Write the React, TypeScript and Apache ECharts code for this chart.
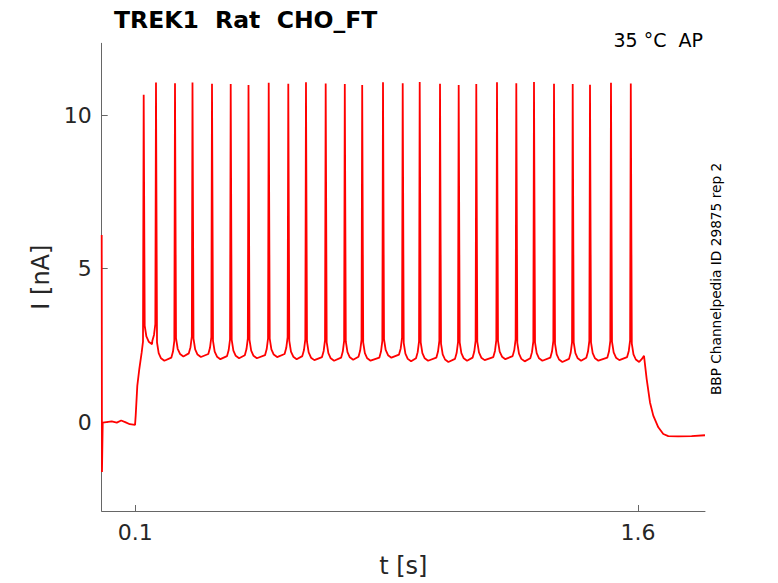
import React, { useEffect, useRef } from "react";
import * as echarts from "echarts";

// Stimulus/trace data
const spikeTimes = [
  0.1253, 0.162, 0.2187, 0.2709, 0.3291, 0.3849, 0.438, 0.4983, 0.5567, 0.6095,
  0.6683, 0.7253, 0.7772, 0.8393, 0.8981, 0.9488, 1.0094, 1.0651, 1.1176, 1.1794,
  1.237, 1.2898, 1.3495, 1.4053, 1.4569, 1.5195, 1.5786,
];
const spikePeaks = [
  10.67, 11.07, 11.05, 11.07, 11.03, 11.02, 10.99, 11.06, 11.03, 11.08,
  11.04, 11.02, 10.99, 11.08, 11.05, 11.09, 11.03, 10.99, 11.02, 11.08,
  11.05, 11.09, 11.03, 11.02, 11.0, 11.06, 11.04,
];
const troughLevels = [
  2.54, 2.0, 2.14, 2.12, 2.05, 2.08, 2.08, 2.12, 2.05, 2.02,
  2.0, 2.03, 2.0, 2.1, 1.98, 2.0, 1.96, 2.0, 2.02, 2.05,
  1.98, 2.0, 1.96, 2.0, 2.0, 2.02, 1.96,
];
// shape of the trace right after each spike: [seconds after spike, nA above trough]
const afterSpikeShape = [
  [0.003, 0.6],
  [0.008, 0.25],
  [0.015, 0.08],
  [0.025, 0.0],
];
// shape right before the next spike: [seconds before spike, nA above trough]
const beforeSpikeShape = [
  [-0.011, 0.1],
  [-0.006, 0.3],
  [-0.002, 0.65],
];
// start of trace: transient, holding baseline and step onset
const onsetTrace = [
  [0.0, 6.1],
  [0.0008, -1.63],
  [0.003, -0.02],
  [0.03, 0.02],
  [0.045, -0.02],
  [0.058, 0.05],
  [0.07, 0.0],
  [0.084, -0.07],
  [0.0995, -0.09],
  [0.1014, 0.21],
  [0.1062, 1.18],
  [0.1122, 1.73],
  [0.1193, 2.27],
  [0.1232, 2.62],
];
// end of trace: step offset and return to holding
const offsetTrace = [
  [1.6111, 2.05],
  [1.618, 2.16],
  [1.626, 1.4],
  [1.6359, 0.64],
  [1.6457, 0.21],
  [1.6607, -0.17],
  [1.6756, -0.39],
  [1.6905, -0.46],
  [1.72, -0.47],
  [1.76, -0.46],
  [1.8, -0.43],
];
const xTicks = [0.1, 1.6];
const yTicks = [0, 5, 10];

const titleText = "TREK1  Rat  CHO_FT";
const tempText = "35 °C  AP";
const idText = "BBP Channelpedia ID 29875 rep 2";

function buildTrace(): number[][] {
  const pts: number[][] = onsetTrace.map((p) => [p[0], p[1]]);
  for (let k = 0; k < spikeTimes.length; k++) {
    const t = spikeTimes[k];
    const tr = troughLevels[k];
    pts.push([t, spikePeaks[k]]);
    for (const [dt, dv] of afterSpikeShape) pts.push([t + dt, tr + dv]);
    if (k < spikeTimes.length - 1) {
      const tn = spikeTimes[k + 1];
      for (const [dt, dv] of beforeSpikeShape) pts.push([tn + dt, tr + dv]);
    }
  }
  for (const p of offsetTrace) pts.push([p[0], p[1]]);
  return pts;
}

const FONT = "DejaVu Sans";

export default function App() {
  const ref = useRef<HTMLDivElement>(null);
  useEffect(() => {
    if (!ref.current) return;
    const chart = echarts.init(ref.current, null, { renderer: "svg" });
    chart.setOption({
      animation: false,
      backgroundColor: "#ffffff",
      title: {
        text: titleText,
        left: 109,
        top: 3,
        textStyle: { fontFamily: FONT, fontSize: 23.5, fontWeight: "bold", color: "#000" },
      },
      grid: { left: 101.7, top: 43.3, right: 73, bottom: 70.7, containLabel: false },
      xAxis: {
        type: "value",
        min: 0,
        max: 1.8,
        name: "t [s]",
        nameLocation: "middle",
        nameGap: 43,
        nameTextStyle: { fontFamily: FONT, fontSize: 24, color: "#262626" },
        axisLine: { show: true, onZero: false, lineStyle: { color: "#666", width: 1 } },
        axisTick: { show: true, inside: true, length: 6, customValues: xTicks, lineStyle: { color: "#666" } },
        axisLabel: {
          customValues: xTicks,
          margin: 10,
          fontFamily: FONT,
          fontSize: 22,
          color: "#262626",
          formatter: (v: number) => v.toFixed(1),
        },
        splitLine: { show: false },
      },
      yAxis: {
        type: "value",
        min: -2.9,
        max: 12.35,
        name: "I [nA]",
        nameLocation: "middle",
        nameGap: 45,
        nameTextStyle: { fontFamily: FONT, fontSize: 24, color: "#262626" },
        axisLine: { show: true, onZero: false, lineStyle: { color: "#666", width: 1 } },
        axisTick: { show: true, inside: true, length: 6, customValues: yTicks, lineStyle: { color: "#666" } },
        axisLabel: {
          customValues: yTicks,
          margin: 10,
          fontFamily: FONT,
          fontSize: 22,
          color: "#262626",
        },
        splitLine: { show: false },
      },
      graphic: [
        {
          type: "text",
          right: 75,
          top: 30,
          style: { text: tempText, fontFamily: FONT, fontSize: 19, fill: "#000" },
        },
        {
          type: "text",
          x: 716,
          y: 279,
          rotation: Math.PI / 2,
          style: {
            text: idText,
            fontFamily: FONT,
            fontSize: 13.7,
            fill: "#000",
            align: "center",
            verticalAlign: "middle",
          },
        },
      ],
      series: [
        {
          type: "line",
          data: buildTrace(),
          showSymbol: false,
          symbol: "none",
          lineStyle: { color: "#ff0000", width: 1.8 },
          itemStyle: { color: "#ff0000" },
          clip: true,
        },
      ],
    });
    return () => chart.dispose();
  }, []);
  return (
    <div
      ref={ref}
      style={{ position: "fixed", left: 0, top: 0, width: 778, height: 583, background: "#fff" }}
    />
  );
}
